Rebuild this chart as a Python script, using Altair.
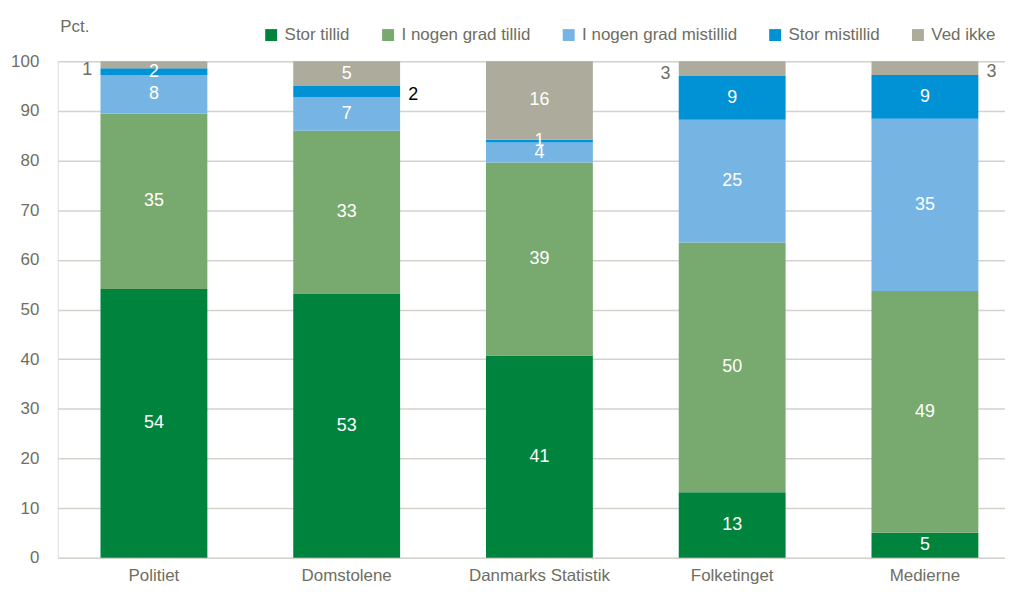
import altair as alt
import pandas as pd

categories = ["Politiet", "Domstolene", "Danmarks Statistik", "Folketinget", "Medierne"]
series = ["Stor tillid", "I nogen grad tillid", "I nogen grad mistillid", "Stor mistillid", "Ved ikke"]
colors = ["#00843D", "#78A96F", "#76B5E3", "#0092D5", "#ADAB9C"]

# segment heights (pct), per series
stor_tillid = [54.1, 53.1, 40.7, 13.2, 5.0]
nogen_tillid = [35.3, 32.9, 38.9, 50.3, 48.7]
nogen_mistillid = [7.8, 6.8, 4.0, 24.7, 34.7]
stor_mistillid = [1.4, 2.2, 0.6, 8.8, 8.8]
ved_ikke = [1.4, 5.0, 15.8, 3.0, 2.8]

# printed labels
lab_stor_tillid = ["54", "53", "41", "13", "5"]
lab_nogen_tillid = ["35", "33", "39", "50", "49"]
lab_nogen_mistillid = ["8", "7", "4", "25", "35"]
lab_stor_mistillid = ["2", "2", "1", "9", "9"]
lab_ved_ikke = ["1", "5", "16", "3", "3"]

# where each label sits: in = inside bar, left / right = beside bar
pos_stor_mistillid = ["in", "right", "in", "in", "in"]
pos_ved_ikke = ["left", "in", "in", "left", "right"]

values = [stor_tillid, nogen_tillid, nogen_mistillid, stor_mistillid, ved_ikke]
labels = [lab_stor_tillid, lab_nogen_tillid, lab_nogen_mistillid, lab_stor_mistillid, lab_ved_ikke]
positions = [["in"] * 5, ["in"] * 5, ["in"] * 5, pos_stor_mistillid, pos_ved_ikke]

rows = []
for ci, cat in enumerate(categories):
    cum = 0.0
    for si, s in enumerate(series):
        v = values[si][ci]
        p = positions[si][ci]
        if p == "in":
            tc = "#FFFFFF"
        elif s == "Stor mistillid":
            tc = "#000000"
        else:
            tc = "#6E6E62"
        rows.append({
            "cat": cat, "series": s, "order": si,
            "start": cum, "end": cum + v, "mid": cum + v / 2,
            "label": labels[si][ci], "pos": p, "tcolor": tc,
        })
        cum += v
df = pd.DataFrame(rows)

FONT = "Liberation Sans"
GRAY = "#6E6E62"

base = alt.Chart(df)

xscale = alt.Scale(paddingInner=0.4456, paddingOuter=0.18, align=0.616)

x = alt.X("cat:N", sort=categories, title=None, scale=xscale,
          axis=alt.Axis(labelAngle=0, labelFontSize=17, labelColor=GRAY, labelFont=FONT,
                        ticks=False, domain=False, labelPadding=10))

bars = base.mark_bar().encode(
    x=x,
    y=alt.Y("start:Q", scale=alt.Scale(domain=[0, 100], nice=False),
            axis=alt.Axis(values=list(range(0, 101, 10)), grid=True, gridColor="#D3D3CB",
                          gridWidth=1.5, domain=False, ticks=False, labelFontSize=17,
                          labelColor=GRAY, labelFont=FONT, labelPadding=19,
                          title="Pct.", titleAngle=0, titleX=2, titleY=-30,
                          titleAlign="left", titleBaseline="alphabetic",
                          titleFontSize=17, titleFontWeight="normal", titleColor=GRAY,
                          titleFont=FONT)),
    y2="end:Q",
    color=alt.Color("series:N", sort=series,
                    scale=alt.Scale(domain=series, range=colors),
                    legend=alt.Legend(title=None, orient="none", direction="horizontal",
                                      legendX=206, legendY=-35, symbolType="square",
                                      symbolSize=144, symbolStrokeWidth=0,
                                      labelFontSize=17, labelColor=GRAY, labelFont=FONT,
                                      labelOffset=5, columnPadding=29.5)),
    order=alt.Order("order:Q"),
)

txt_in = base.transform_filter(alt.datum.pos == "in").mark_text(
    fontSize=18, font=FONT, align="center", baseline="middle"
).encode(x=alt.X("cat:N", sort=categories, scale=xscale), y="mid:Q", text="label:N",
         color=alt.Color("tcolor:N", scale=None))

txt_left = base.transform_filter(alt.datum.pos == "left").mark_text(
    fontSize=18, font=FONT, align="right", baseline="middle", dx=-62, dy=5
).encode(x=alt.X("cat:N", sort=categories, scale=xscale), y="mid:Q", text="label:N",
         color=alt.Color("tcolor:N", scale=None))

txt_right = base.transform_filter(alt.datum.pos == "right").mark_text(
    fontSize=18, font=FONT, align="left", baseline="middle", dx=62, dy=4
).encode(x=alt.X("cat:N", sort=categories, scale=xscale), y="mid:Q", text="label:N",
         color=alt.Color("tcolor:N", scale=None))

chart = alt.layer(bars, txt_in, txt_left, txt_right).properties(
    width=952, height=499,
    autosize=alt.AutoSizeParams(type="none"),
    padding={"left": 50, "top": 52, "right": 0, "bottom": 25},
).configure_view(stroke=None).configure(font=FONT)

chart.save("out.html", embed_options={"renderer": "svg", "actions": False})
